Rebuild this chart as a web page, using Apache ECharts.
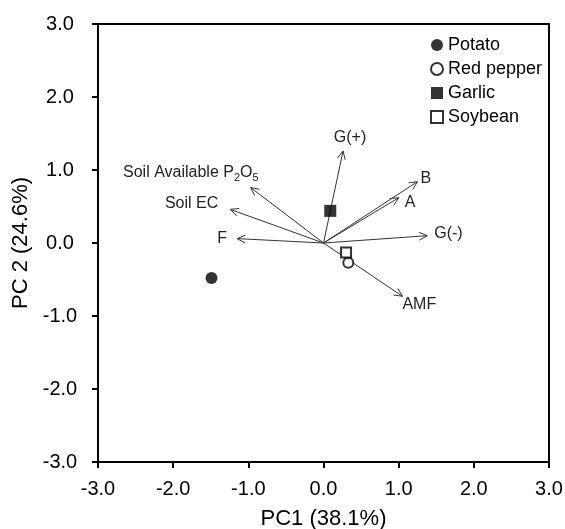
<!DOCTYPE html>
<html>
<head>
<meta charset="utf-8">
<script src="https://cdn.jsdelivr.net/npm/echarts@6/dist/echarts.min.js"></script>
<style>
  html, body { margin: 0; padding: 0; background: #fff; }
  #chart { width: 565px; height: 529px; }
</style>
</head>
<body>
<div id="chart"></div>
<script>
// crop scores on PC1 / PC2
const crops = ['Potato', 'Red pepper', 'Garlic', 'Soybean'];
const cropPc1 = [-1.49, 0.33, 0.09, 0.30];
const cropPc2 = [-0.48, -0.27, 0.44, -0.13];

// variable loadings (arrows from origin)
const vectorNames = ['G(+)', 'B', 'A', 'G(-)', 'AMF', 'Soil Available P{sub|2}O{sub|5}', 'Soil EC', 'F'];
const vectorPc1 = [0.26, 1.25, 1.00, 1.38, 1.05, -0.97, -1.24, -1.15];
const vectorPc2 = [1.26, 0.84, 0.62, 0.10, -0.73, 0.76, 0.46, 0.06];

const axisTicks = [-3, -2, -1, 0, 1, 2, 3];

// label placement next to each arrow tip: [dx, dy, align]
const labelPlace = [
    [7, -13, 'center'],
    [3, -3, 'left'],
    [6, 5, 'left'],
    [7, -2, 'left'],
    [0, 8, 'left'],
    [8, -15, 'right'],
    [-12, -6, 'right'],
    [-10, 0, 'right']
];

const FONT = "'Liberation Sans', Arial, sans-serif";

const cropStyles = [
    { symbol: 'circle', symbolSize: 12, itemStyle: { color: '#000', borderColor: '#000', borderWidth: 0 } },
    { symbol: 'circle', symbolSize: 10, itemStyle: { color: '#fff', borderColor: '#000', borderWidth: 2 } },
    { symbol: 'rect', symbolSize: 12, itemStyle: { color: '#000', borderColor: '#000', borderWidth: 0 } },
    { symbol: 'rect', symbolSize: 10, itemStyle: { color: '#fff', borderColor: '#000', borderWidth: 2 } }
];

function renderArrow(params, api) {
    var o = api.coord([0, 0]);
    var t = api.coord([api.value(0), api.value(1)]);
    var ang = Math.atan2(t[1] - o[1], t[0] - o[0]);
    var hl = 9, ha = 0.45;
    var p1 = [t[0] - hl * Math.cos(ang - ha), t[1] - hl * Math.sin(ang - ha)];
    var p2 = [t[0] - hl * Math.cos(ang + ha), t[1] - hl * Math.sin(ang + ha)];
    var pl = labelPlace[params.dataIndex];
    return {
        type: 'group',
        children: [{
            type: 'line',
            shape: { x1: o[0], y1: o[1], x2: t[0], y2: t[1] },
            style: { stroke: '#333', lineWidth: 1 }
        }, {
            type: 'polyline',
            shape: { points: [p1, t, p2] },
            style: { stroke: '#333', lineWidth: 1, fill: null }
        }, {
            type: 'text',
            x: t[0] + pl[0],
            y: t[1] + pl[1],
            style: {
                text: vectorNames[params.dataIndex],
                fontFamily: FONT,
                fontSize: 16,
                fill: '#222',
                align: pl[2],
                verticalAlign: 'middle',
                lineHeight: 22,
                rich: {
                    sub: { fontSize: 11, lineHeight: 11, verticalAlign: 'bottom', fontFamily: FONT, fill: '#222' }
                }
            }
        }]
    };
}

const chart = echarts.init(document.getElementById('chart'), null, { renderer: 'canvas' });

const series = crops.map(function (name, i) {
    return Object.assign({
        name: name,
        type: 'scatter',
        z: 5,
        data: [[cropPc1[i], cropPc2[i]]]
    }, cropStyles[i]);
});

series.push({
    type: 'custom',
    name: 'loadings',
    z: 3,
    renderItem: renderArrow,
    data: vectorPc1.map(function (x, i) { return [x, vectorPc2[i]]; })
});

const axisCommon = {
    type: 'value',
    min: axisTicks[0],
    max: axisTicks[axisTicks.length - 1],
    interval: 1,
    nameLocation: 'middle',
    nameTextStyle: { fontFamily: FONT, fontSize: 22, color: '#000' },
    axisLine: { show: true, onZero: false, lineStyle: { color: '#000', width: 2 } },
    axisTick: { show: true, inside: false, length: 6, lineStyle: { color: '#000', width: 2 } },
    splitLine: { show: false },
    axisLabel: {
        fontFamily: FONT,
        fontSize: 20,
        color: '#000',
        formatter: function (v) { return v.toFixed(1); }
    }
};

chart.setOption({
    animation: false,
    backgroundColor: '#fff',
    grid: {
        left: 98, right: 16, top: 24, bottom: 67,
        outerBoundsMode: 'none',
        containLabel: false,
        show: true, borderColor: '#000', borderWidth: 2, backgroundColor: 'transparent'
    },
    legend: {
        data: crops,
        orient: 'vertical',
        left: 425,
        top: 31,
        itemWidth: 12,
        itemHeight: 12,
        itemGap: 6,
        textStyle: { fontFamily: FONT, fontSize: 18, color: '#000' }
    },
    xAxis: Object.assign({}, axisCommon, {
        name: 'PC1 (38.1%)',
        nameGap: 46,
        axisLabel: Object.assign({}, axisCommon.axisLabel, { margin: 17 })
    }),
    yAxis: Object.assign({}, axisCommon, {
        name: 'PC 2 (24.6%)',
        nameGap: 63,
        axisLabel: Object.assign({}, axisCommon.axisLabel, { margin: 38, align: 'center' })
    }),
    series: series
});
</script>
</body>
</html>
